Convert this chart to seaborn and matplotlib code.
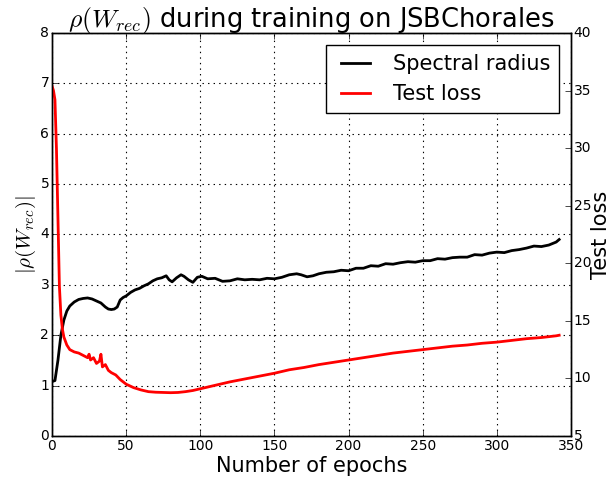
import numpy as np
import pandas as pd
import matplotlib
matplotlib.use('Agg')
import matplotlib.pyplot as plt
import seaborn as sns

# spectral radius |rho(W_rec)|
ep_sr = [0, 2, 4, 6, 8, 10, 12, 15, 18, 21, 24, 27, 30, 33, 36, 38, 40, 42, 44, 46,
         48, 50, 53, 56, 59, 62, 65, 68, 71, 74, 77, 79, 81, 84, 87, 89, 92, 95, 98, 101,
         105, 110, 115, 120, 125, 130, 135, 140, 145, 150, 155, 160, 165, 168, 172, 176,
         180, 185, 190, 195, 200, 205, 210, 215, 220, 225, 230, 235, 240, 245, 250, 255,
         260, 265, 270, 275, 280, 285, 290, 295, 300, 305, 310, 315, 320, 325, 330, 335,
         340, 342]
spectral = [1.08, 1.1, 1.5, 2.0, 2.3, 2.48, 2.58, 2.66, 2.71, 2.73, 2.74, 2.72, 2.68, 2.64,
            2.56, 2.52, 2.51, 2.52, 2.56, 2.7, 2.75, 2.78, 2.85, 2.9, 2.93, 2.98, 3.02, 3.08,
            3.12, 3.14, 3.18, 3.1, 3.06, 3.14, 3.2, 3.17, 3.1, 3.05, 3.15, 3.17, 3.12, 3.13,
            3.07, 3.08, 3.12, 3.1, 3.11, 3.1, 3.13, 3.12, 3.15, 3.2, 3.22, 3.2, 3.16, 3.18,
            3.22, 3.25, 3.26, 3.29, 3.28, 3.33, 3.33, 3.38, 3.37, 3.42, 3.41, 3.44, 3.46,
            3.45, 3.48, 3.48, 3.52, 3.51, 3.54, 3.55, 3.55, 3.6, 3.59, 3.63, 3.65, 3.64,
            3.68, 3.7, 3.73, 3.77, 3.76, 3.79, 3.85, 3.9]

# test loss (right axis)
ep_loss = [0, 1, 2, 3, 4, 5, 6, 7, 8, 10, 12, 15, 18, 21, 24, 25, 26, 28, 30, 32, 33, 34,
           36, 38, 40, 43, 46, 50, 55, 60, 65, 70, 75, 80, 85, 90, 95, 100, 110, 120, 130,
           140, 150, 160, 170, 180, 190, 200, 210, 220, 230, 240, 250, 260, 270, 280, 290,
           300, 310, 320, 330, 340, 342]
test_loss = [35.4, 35.0, 34.2, 30.0, 24.0, 18.0, 15.5, 14.3, 13.6, 12.9, 12.5, 12.3, 12.2,
             12.0, 11.8, 12.1, 11.6, 11.8, 11.3, 11.5, 12.1, 11.0, 11.2, 10.7, 10.5, 10.3,
             9.9, 9.5, 9.2, 9.0, 8.85, 8.8, 8.78, 8.76, 8.78, 8.85, 8.95, 9.1, 9.4, 9.7,
             9.95, 10.2, 10.45, 10.75, 10.95, 11.2, 11.4, 11.6, 11.8, 12.0, 12.2, 12.35,
             12.5, 12.65, 12.8, 12.9, 13.05, 13.15, 13.3, 13.45, 13.55, 13.7, 13.75]

plt.style.use('classic')
df_sr = pd.DataFrame({'epoch': ep_sr, 'rho': spectral})
df_loss = pd.DataFrame({'epoch': ep_loss, 'loss': test_loss})

fig = plt.figure(figsize=(6.16, 4.8), dpi=100, facecolor='white')
ax = fig.add_axes([0.0844, 0.0917, 0.8426, 0.8396])
ax2 = ax.twinx()

sns.lineplot(data=df_sr, x='epoch', y='rho', ax=ax, color='black', linewidth=2,
             label='Spectral radius', legend=False)
sns.lineplot(data=df_loss, x='epoch', y='loss', ax=ax2, color='red', linewidth=2,
             label='Test loss', legend=False)

ax.set_xlim(0, 350)
ax.set_ylim(0, 8)
ax2.set_ylim(5, 40)
ax.set_xticks(range(0, 351, 50))
ax.set_yticks(range(0, 9))
ax2.set_yticks(range(5, 41, 5))
ax.grid(True, color='black', linestyle=':', linewidth=0.8)

ax.set_title(r'$\rho(W_{rec})$ during training on JSBChorales', fontsize=18.5, pad=4)
ax.set_xlabel('Number of epochs', fontsize=15, labelpad=2)
ax.set_ylabel(r'$|\rho(W_{rec})|$', fontsize=15, labelpad=2)
ax2.set_ylabel('Test loss', fontsize=15, labelpad=0)
ax.tick_params(labelsize=10, pad=2)
ax2.tick_params(labelsize=10, pad=2)

h1, l1 = ax.get_legend_handles_labels()
h2, l2 = ax2.get_legend_handles_labels()
ax2.legend(h1 + h2, l1 + l2, loc='upper right', fontsize=15, borderaxespad=0.6)

fig.savefig('out.png', dpi=100, facecolor='white')
